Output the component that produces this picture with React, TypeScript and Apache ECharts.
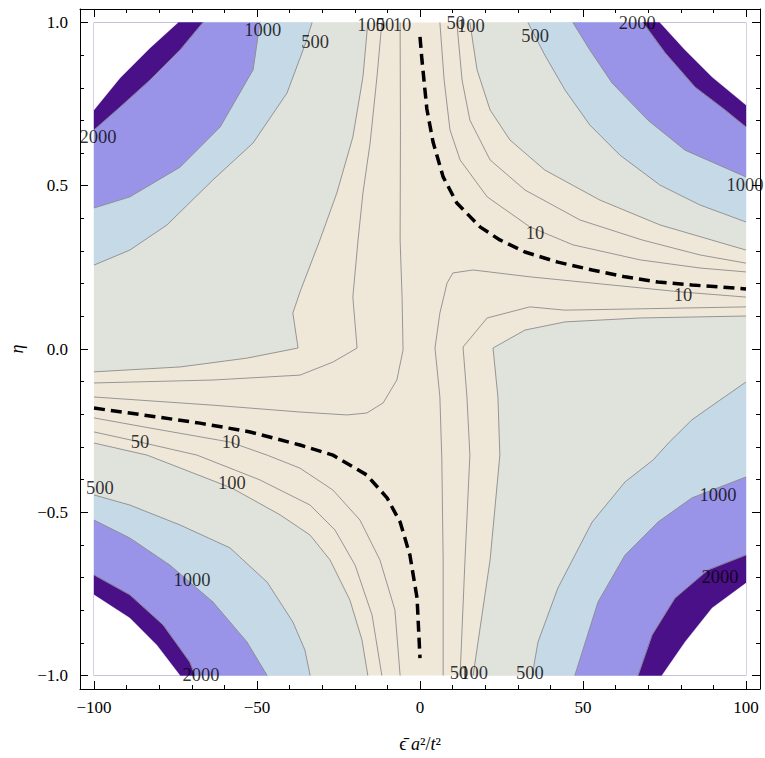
import React, { useEffect, useRef } from "react";
import * as echarts from "echarts";

// ---- axis ticks ----
const X_TICKS = [-100, -50, 0, 50, 100];
const X_MINOR = [-90, -80, -70, -60, -40, -30, -20, -10, 10, 20, 30, 40, 60, 70, 80, 90];
const Y_TICKS = [-1, -0.5, 0, 0.5, 1];
const Y_MINOR = [-0.9, -0.8, -0.7, -0.6, -0.4, -0.3, -0.2, -0.1, 0.1, 0.2, 0.3, 0.4, 0.6, 0.7, 0.8, 0.9];

// ---- dashed valley curves ----
const dashUR = [[0, 0.956], [0.6, 0.885], [2.1, 0.735], [4.0, 0.634], [7.1, 0.527], [11.3, 0.447], [18.4, 0.374], [24.5, 0.334], [32.2, 0.297], [42.3, 0.266], [52.8, 0.242], [62.9, 0.221], [73.0, 0.205], [83.4, 0.196], [100, 0.184]];
const dashLL = [[-100, -0.181], [-82.8, -0.205], [-67.5, -0.227], [-52.1, -0.254], [-36.8, -0.294], [-26.7, -0.325], [-16.3, -0.386], [-10.1, -0.456], [-6.1, -0.53], [-3.1, -0.631], [-0.9, -0.763], [0, -0.947]];

// ---- contour lines: top-left ----
const tl10 = [[-6.1, 1], [-6.0, 0.67], [-6.1, 0.334], [-5.5, 0.159], [-5.2, -0.003], [-7.1, -0.095], [-11.3, -0.165], [-16.3, -0.196], [-22.4, -0.202], [-36.8, -0.193], [-63.5, -0.172], [-100, -0.147]];
const tl50 = [[-11.7, 1], [-13.2, 0.833], [-15.3, 0.631], [-17.5, 0.478], [-19.0, 0.334], [-20.6, 0.159], [-19.3, 0.003], [-26.7, -0.04], [-36.8, -0.08], [-63.5, -0.095], [-100, -0.104]];
const tl100 = [[-16.0, 1], [-17.5, 0.833], [-20.6, 0.649], [-25.5, 0.478], [-30.7, 0.334], [-36.8, 0.175], [-39.0, 0.11], [-37.4, 0.003], [-53.1, -0.028], [-73.6, -0.055], [-100, -0.07]];
const tl500 = [[-33.1, 1], [-35.3, 0.931], [-40.8, 0.784], [-51.2, 0.631], [-63.5, 0.518], [-77.6, 0.38], [-89.0, 0.303], [-100, 0.257]];
const tl1000 = [[-49.1, 1], [-51.2, 0.855], [-61.3, 0.68], [-73.6, 0.557], [-89.0, 0.466], [-100, 0.432]];
const tl2000 = [[-66.6, 1], [-73.6, 0.916], [-82.8, 0.824], [-92.0, 0.741], [-100, 0.671]];
const tlEdge = [[-74.2, 1], [-82.8, 0.922], [-92.0, 0.83], [-100, 0.732]];

// ---- top-right ----
const tr10 = [[6.1, 1], [7.4, 0.824], [9.2, 0.671], [12.3, 0.579], [20.6, 0.466], [33.7, 0.374], [46.9, 0.319], [67.5, 0.273], [85.9, 0.248], [100, 0.236]];
const tr50 = [[11.3, 1], [12.9, 0.824], [15.3, 0.701], [21.5, 0.579], [32.2, 0.487], [49.1, 0.395], [68.1, 0.334], [85.9, 0.288], [100, 0.263]];
const tr100 = [[15.3, 1], [17.5, 0.855], [21.5, 0.732], [27.6, 0.64], [38.3, 0.548], [55.2, 0.456], [73.6, 0.38], [100, 0.303]];
const tr500 = [[33.1, 1], [38.3, 0.9], [44.5, 0.793], [52.1, 0.686], [61.3, 0.594], [73.6, 0.502], [85.9, 0.441], [100, 0.389]];
const tr1000 = [[46.9, 1], [52.1, 0.916], [58.9, 0.815], [69.9, 0.701], [81.3, 0.609], [100, 0.527]];
const tr2000 = [[68.4, 1], [75.2, 0.907], [84.4, 0.802], [93.6, 0.732], [100, 0.68]];
const trEdge = [[73.6, 1], [81.3, 0.916], [89.6, 0.833], [100, 0.747]];

// ---- bottom-right ----
const br10 = [[100, 0.159], [79.8, 0.175], [52.8, 0.202], [33.7, 0.221], [16.3, 0.242], [10.1, 0.233], [8.3, 0.202], [6.1, 0.11], [4.6, 0.003], [6.1, -0.147], [6.7, -0.34], [7.1, -0.646], [7.1, -1]];
const br50 = [[100, 0.129], [67.5, 0.123], [44.5, 0.119], [33.7, 0.129], [20.6, 0.095], [13.2, 0.006], [14.4, -0.147], [15.3, -0.325], [13.8, -0.646], [12.3, -1]];
const br100 = [[100, 0.101], [67.5, 0.095], [44.5, 0.083], [32.2, 0.058], [22.4, 0.003], [23.9, -0.147], [24.5, -0.325], [21.5, -0.646], [16.3, -1]];
const br500 = [[100, -0.101], [91.5, -0.16], [83.4, -0.217], [76.5, -0.285], [71.5, -0.34], [62.9, -0.407], [52.8, -0.53], [42.3, -0.732], [36.2, -0.897], [34.4, -1]];
const br1000 = [[100, -0.392], [83.4, -0.456], [73.0, -0.53], [62.9, -0.631], [54.6, -0.775], [47.5, -1]];
const br2000 = [[100, -0.631], [88.3, -0.677], [78.2, -0.763], [71.2, -0.876], [66.9, -1]];
const brEdge = [[100, -0.717], [89.6, -0.793], [81.3, -0.897], [74.2, -1]];

// ---- bottom-left ----
const bl10 = [[-100, -0.211], [-82.8, -0.242], [-58.3, -0.285], [-46.9, -0.325], [-36.8, -0.365], [-26.7, -0.432], [-18.4, -0.524], [-12.3, -0.646], [-7.7, -0.799], [-6.1, -1]];
const bl50 = [[-100, -0.254], [-85.9, -0.285], [-68.4, -0.325], [-49.1, -0.401], [-33.7, -0.478], [-26.1, -0.554], [-19.9, -0.662], [-14.7, -0.815], [-11.7, -1]];
const bl100 = [[-100, -0.288], [-83.7, -0.325], [-57.7, -0.426], [-42.9, -0.508], [-33.7, -0.57], [-27.6, -0.646], [-21.5, -0.769], [-17.8, -0.891], [-16.0, -1]];
const bl500 = [[-100, -0.447], [-89.0, -0.478], [-73.6, -0.539], [-58.3, -0.609], [-46.9, -0.714], [-39.0, -0.836], [-35.3, -0.922], [-33.7, -1]];
const bl1000 = [[-100, -0.524], [-89.0, -0.579], [-76.7, -0.662], [-63.5, -0.775], [-53.1, -0.897], [-46.9, -1]];
const bl2000 = [[-100, -0.692], [-89.0, -0.753], [-78.8, -0.845], [-70.6, -0.959], [-69.0, -1]];
const blEdge = [[-100, -0.753], [-89.0, -0.824], [-80.7, -0.907], [-73.6, -1]];

// ---- contour labels [x, y, text] ----
const contourLabels: [number, number, string][] = [
  [-48.2, 0.977, "1000"], [-32.2, 0.94, "500"], [-15.0, 0.992, "100"], [-10.7, 0.992, "50"], [-5.5, 0.992, "10"],
  [11.0, 0.998, "50"], [15.6, 0.989, "100"], [35.3, 0.959, "500"], [66.6, 0.998, "2000"], [99.7, 0.502, "1000"],
  [35.3, 0.355, "10"], [80.7, 0.165, "10"], [-98.8, 0.649, "2000"], [-85.9, -0.285, "50"], [-58.0, -0.285, "10"],
  [-98.2, -0.426, "500"], [-57.7, -0.41, "100"], [-69.9, -0.708, "1000"], [-67.2, -0.998, "2000"],
  [12.0, -0.992, "50"], [16.6, -0.992, "100"], [33.7, -0.992, "500"], [91.4, -0.447, "1000"], [92.0, -0.698, "2000"],
];

const CREAM = "#efe8d9";
const GRAY = "#e0e2dc";
const BLUE = "#c6d9e7";
const PURPLE = "#9a94e8";
const DARK = "#4a1088";
const WHITE = "#ffffff";
const LINE = "#8c8c8c";
const FONT = "'Liberation Serif', 'Times New Roman', 'DejaVu Serif', serif";

const XR = 104.29;
const YR = 1.0413;

export default function App() {
  const ref = useRef<HTMLDivElement>(null);
  useEffect(() => {
    const chart = echarts.init(ref.current!, null, { renderer: "svg" });
    const TLc = [-100, 1], TRc = [100, 1], BRc = [100, -1], BLc = [-100, -1];
    const bands: { color: string; stroke: boolean; polys: number[][][] }[] = [
      { color: CREAM, stroke: false, polys: [[[-100, -1], [100, -1], [100, 1], [-100, 1]]] },
      { color: GRAY, stroke: true, polys: [[...tl100, TLc], [...tr100, TRc], [...br100, BRc], [...bl100, BLc]] },
      { color: BLUE, stroke: true, polys: [[...tl500, TLc], [...tr500, TRc], [...br500, BRc], [...bl500, BLc]] },
      { color: PURPLE, stroke: true, polys: [[...tl1000, TLc], [...tr1000, TRc], [...br1000, BRc], [...bl1000, BLc]] },
      { color: DARK, stroke: true, polys: [[...tl2000, TLc], [...tr2000, TRc], [...br2000, BRc], [...bl2000, BLc]] },
      { color: WHITE, stroke: true, polys: [[...tlEdge, TLc], [...trEdge, TRc], [...brEdge, BRc], [...blEdge, BLc]] },
    ];
    const bandSeries = bands.map((b, k) => ({
      type: "custom",
      coordinateSystem: "cartesian2d",
      xAxisIndex: 0,
      yAxisIndex: 0,
      silent: true,
      clip: true,
      z: 1 + k * 0.01,
      data: b.polys.map((_, i) => [0, 0, i]),
      renderItem: (params: any, api: any) => ({
        type: "polygon",
        shape: { points: b.polys[params.dataIndex].map((p) => api.coord(p)) },
        style: b.stroke ? { fill: b.color, stroke: b.color, lineWidth: 0.3 } : { fill: b.color },
      }),
    }));
    const contours = [
      tl10, tl50, tl100, tl500, tl1000, tl2000,
      tr10, tr50, tr100, tr500, tr1000, tr2000,
      br10, br50, br100, br500, br1000, br2000,
      bl10, bl50, bl100, bl500, bl1000, bl2000,
    ];
    const lineSeries = contours.map((pts) => ({
      type: "line",
      data: pts,
      xAxisIndex: 0,
      yAxisIndex: 0,
      showSymbol: false,
      symbol: "none",
      silent: true,
      clip: true,
      z: 3,
      lineStyle: { color: LINE, width: 0.9 },
    }));
    const dashSeries = [dashUR, dashLL].map((pts) => ({
      type: "line",
      data: pts,
      xAxisIndex: 0,
      yAxisIndex: 0,
      showSymbol: false,
      symbol: "none",
      silent: true,
      z: 4,
      lineStyle: { color: "#000", width: 3.5, type: [11, 6], cap: "butt" },
    }));
    const labelSeries = {
      type: "scatter",
      data: contourLabels,
      xAxisIndex: 0,
      yAxisIndex: 0,
      symbolSize: 0.1,
      silent: true,
      z: 6,
      clip: false,
      itemStyle: { color: "rgba(0,0,0,0)" },
      label: {
        show: true,
        position: "inside",
        formatter: (p: any) => p.value[2],
        color: "#000",
        fontFamily: FONT,
        fontSize: 18.5,
      },
    };
    const fmtX = (v: number) => (v < 0 ? "\u2212" : "") + Math.abs(v);
    const fmtY = (v: number) => (v < 0 ? "\u2212" : "") + Math.abs(v).toFixed(1);
    const lineStyle = { color: "#000", width: 1 };
    const mk = (pos: string, min: number, max: number, vals: number[], len: number, withLine: boolean) => ({
      type: "value",
      position: pos,
      min,
      max,
      splitLine: { show: false },
      axisLine: { show: withLine, onZero: false, lineStyle },
      axisTick: { show: true, inside: true, length: len, customValues: vals, lineStyle },
      axisLabel: { show: false },
    });
    const xAxis: any[] = [
      {
        ...mk("bottom", -XR, XR, X_TICKS, 8, true),
        axisLabel: { show: true, customValues: X_TICKS, formatter: fmtX, margin: 10, color: "#000", fontFamily: FONT, fontSize: 17 },
        name: "\u03f5\u0304 {i|a}\u00b2/{i|t}\u00b2",
        nameLocation: "middle",
        nameGap: 46,
        nameTextStyle: { color: "#000", fontFamily: FONT, fontSize: 18, rich: { i: { fontStyle: "italic", fontFamily: FONT, fontSize: 18, color: "#000" } } },
      },
      mk("bottom", -XR, XR, X_MINOR, 4, false),
      mk("top", -XR, XR, X_TICKS, 8, true),
      mk("top", -XR, XR, X_MINOR, 4, false),
    ];
    const yAxis: any[] = [
      {
        ...mk("left", -YR, YR, Y_TICKS, 8, true),
        axisLabel: { show: true, customValues: Y_TICKS, formatter: fmtY, margin: 12, color: "#000", fontFamily: FONT, fontSize: 17 },
        name: "\u03b7",
        nameLocation: "middle",
        nameRotate: 90,
        nameGap: 52,
        nameTextStyle: { color: "#000", fontFamily: FONT, fontSize: 18, fontStyle: "italic" },
      },
      mk("left", -YR, YR, Y_MINOR, 4, false),
      mk("right", -YR, YR, Y_TICKS, 8, true),
      mk("right", -YR, YR, Y_MINOR, 4, false),
    ];
    chart.setOption({
      animation: false,
      backgroundColor: "#ffffff",
      grid: { left: 80, right: 5, top: 9, bottom: 69 },
      xAxis,
      yAxis,
      series: [...bandSeries, ...lineSeries, ...dashSeries, labelSeries],
    } as any);
    return () => chart.dispose();
  }, []);
  return <div ref={ref} style={{ position: "absolute", left: 0, top: 0, width: 765, height: 758 }} />;
}
